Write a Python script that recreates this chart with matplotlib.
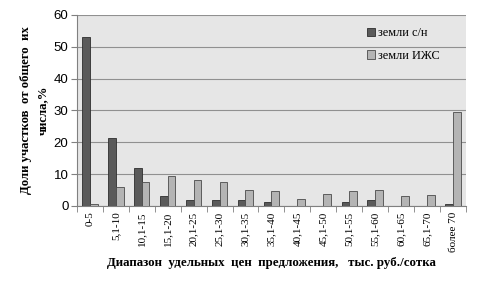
import numpy as np
import matplotlib
matplotlib.use("Agg")
from matplotlib import pyplot as plt

categories = ["0-5", "5,1-10", "10,1-15", "15,1-20", "20,1-25", "25,1-30", "30,1-35",
              "35,1-40", "40,1-45", "45,1-50", "50,1-55", "55,1-60", "60,1-65",
              "65,1-70", "более 70"]
zemli_sn = [53.2, 21.3, 11.9, 3.1, 1.9, 1.9, 1.9, 1.3, 0, 0, 1.3, 1.9, 0, 0, 0.6]
zemli_izhs = [0.6, 6.0, 7.6, 9.4, 8.2, 7.6, 5.0, 4.7, 2.2, 3.8, 4.7, 5.0, 3.1, 3.5, 29.4]

serif = "Liberation Serif"
sans = "Liberation Sans"

fig = plt.figure(figsize=(4.8, 2.88), dpi=100)
ax = fig.add_axes([0.16, 0.285, 0.811, 0.663])
ax.set_facecolor("#e6e6e6")

x = np.arange(len(categories))
w = 0.3
ax.bar(x - w / 2, zemli_sn, w, color="#5a5a5a", edgecolor="#2e2e2e", linewidth=0.6,
       label="земли с/н", zorder=3)
ax.bar(x + w / 2, zemli_izhs, w, color="#b4b4b4", edgecolor="#4a4a4a", linewidth=0.6,
       label="земли ИЖС", zorder=3)

ax.set_xlim(-0.5, len(categories) - 0.5)
ax.set_ylim(0, 60)
ax.set_yticks(range(0, 61, 10))
ax.yaxis.grid(True, color="#909090", linewidth=0.8, zorder=0)

ax.set_xticks(x)
ax.set_xticklabels(categories, rotation=90, fontfamily=serif, fontsize=8)
ax.set_xticks(np.arange(-0.5, len(categories), 1), minor=True)
ax.tick_params(axis="x", which="major", length=0, pad=4)
ax.tick_params(axis="x", which="minor", length=4, color="#808080")
ax.tick_params(axis="y", length=4, color="#808080", labelsize=9.5, pad=2)
for lab in ax.get_yticklabels():
    lab.set_fontfamily(sans)

for s in ["top", "right"]:
    ax.spines[s].set_visible(False)
ax.spines["left"].set_color("#808080")
ax.spines["bottom"].set_color("#808080")

ax.set_xlabel("Диапазон  удельных  цен  предложения,   тыс. руб./сотка",
              fontfamily=serif, fontweight="bold", fontsize=9.3, labelpad=4)
ax.set_ylabel("Доли участков  от общего  их\nчисла,%", fontfamily=serif,
              fontweight="bold", fontsize=9.2, labelpad=3, linespacing=1.6)

ax.legend(loc="upper left", bbox_to_anchor=(0.745, 0.935), frameon=False,
          prop={"family": serif, "size": 8.8}, handlelength=0.7, handleheight=0.7,
          labelspacing=0.85, handletextpad=0.25, borderpad=0, borderaxespad=0)

fig.savefig("out.png", dpi=100)
